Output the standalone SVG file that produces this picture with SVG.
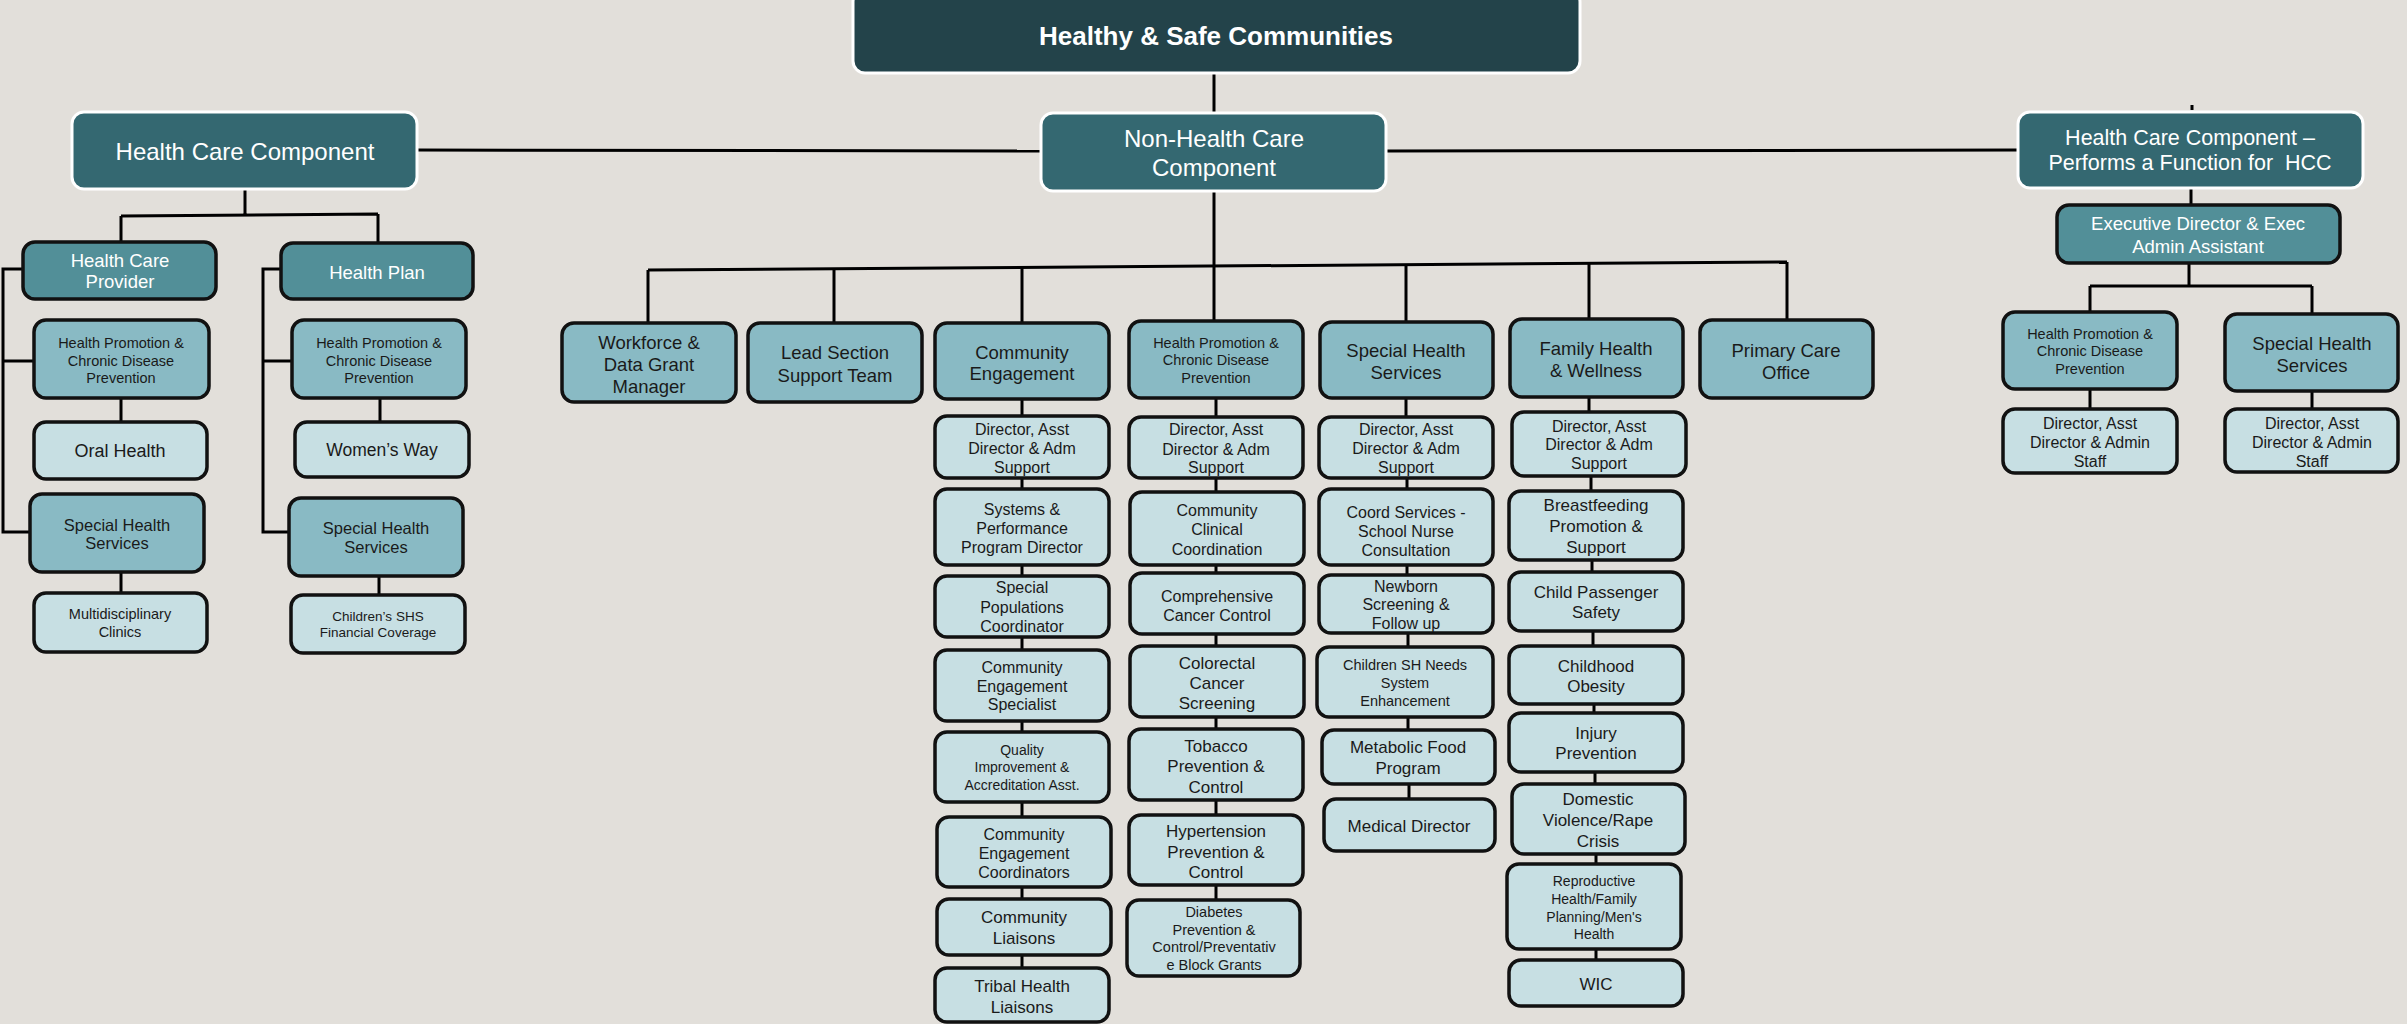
<svg xmlns="http://www.w3.org/2000/svg" width="2407" height="1024" viewBox="0 0 2407 1024">
<style>
.bg{fill:#E2DFDA}
.top{fill:#23434A;stroke:#FFFFFF;stroke-width:3}
.dk{fill:#346871;stroke:#FFFFFF;stroke-width:3}
.md{fill:#528F98;stroke:#111111;stroke-width:3.5}
.lt{fill:#89BAC4;stroke:#111111;stroke-width:3.5}
.xl{fill:#C7DFE3;stroke:#111111;stroke-width:3.5}
.c{fill:none;stroke:#000000;stroke-width:3}
text{font-family:"Liberation Sans",Arial,sans-serif;text-anchor:middle;dominant-baseline:central;fill:#1A1A1A}
.w{fill:#FFFFFF}
.b{font-weight:bold}
.f26{font-size:26px}.f24{font-size:24px}.f215{font-size:21.5px}.f185{font-size:18.5px}
.f18{font-size:18px}.f175{font-size:17.5px}.f17{font-size:17px}.f165{font-size:16.5px}
.f16{font-size:16px}.f145{font-size:14.5px}.f14{font-size:14px}.f135{font-size:13.5px}
</style>
<rect class="bg" x="0" y="0" width="2407" height="1024"/>

<g id="connectors">
<!-- top to non-hcc -->
<path class="c" d="M1214,73 V113"/>
<path class="c" d="M417,150 L1041,151"/>
<path class="c" d="M1386,151 L2018,150"/>
<!-- left HCC -->
<path class="c" d="M245,189 V215 M121,216 L378,214 M121,216 V242 M378,214 V243"/>
<path class="c" d="M23,269 H3 V532 H30 M3,361 H34"/>
<path class="c" d="M281,269 H263 V532 H289 M263,361 H292"/>
<path class="c" d="M121,398 V422 M121,572 V593 M380,398 V422 M379,576 V595"/>
<!-- middle bar -->
<path class="c" d="M648,270 L1787,262"/>
<path class="c" d="M1214,191 V321 M648,270 V323 M834,268 V323 M1022,267 V323 M1406,265 V322 M1589,264 V319 M1787,262 V320"/>
<!-- CE column -->
<path class="c" d="M1022,399 V416 M1022,478 V489 M1022,565 V576 M1022,637 V650 M1022,721 V732 M1022,802 V817 M1022,887 V899 M1022,955 V968"/>
<!-- HPCDP column -->
<path class="c" d="M1216,398 V417 M1216,478 V492 M1216,565 V573 M1216,634 V646 M1216,717 V729 M1216,800 V815 M1216,885 V900"/>
<!-- SHS column -->
<path class="c" d="M1406,398 V417 M1407,478 V489 M1407,565 V575 M1408,633 V647 M1408,717 V730 M1409,784 V799"/>
<!-- FHW column -->
<path class="c" d="M1589,397 V412 M1591,476 V491 M1592,560 V572 M1593,631 V646 M1594,704 V713 M1595,772 V784 M1596,854 V864 M1596,949 V960"/>
<!-- right side -->
<path class="c" d="M2192,105 V110"/>
<path class="c" d="M2191,188 V205 M2189,263 V286 M2090,286 H2312 M2090,286 V312 M2312,286 V314 M2090,389 V409 M2312,391 V409"/>
</g>

<g id="n-hsc"><rect class="top" x="853" y="-10" width="727" height="83" rx="12"/><text class="w b f26" x="1216" y="36">Healthy &amp; Safe Communities</text></g>
<g id="n-nonhcc"><rect class="dk" x="1041" y="113" width="345" height="78" rx="12"/><text class="w f24" x="1214" y="138">Non-Health Care</text><text class="w f24" x="1214" y="167">Component</text></g>
<g id="n-hcc"><rect class="dk" x="72" y="112" width="345" height="77" rx="12"/><text class="w f24" x="245" y="151">Health Care Component</text></g>
<g id="n-hccf"><rect class="dk" x="2018" y="112" width="345" height="76" rx="12"/><text class="w f215" x="2190" y="138">Health Care Component –</text><text class="w f215" x="2190" y="163" xml:space="preserve">Performs a Function for  HCC</text></g>

<!-- right side -->
<g id="n-exec"><rect class="md" x="2057" y="205" width="283" height="58" rx="12"/><text class="w f185" x="2198" y="223">Executive Director &amp; Exec</text><text class="w f185" x="2198" y="246">Admin Assistant</text></g>
<g id="n-r-hpcdp"><rect class="lt" x="2003" y="312" width="174" height="77" rx="12"/><text class="f145" x="2090" y="334">Health Promotion &amp;</text><text class="f145" x="2090" y="351">Chronic Disease</text><text class="f145" x="2090" y="369">Prevention</text></g>
<g id="n-r-shs"><rect class="lt" x="2225" y="314" width="173" height="77" rx="12"/><text class="f185" x="2312" y="343">Special Health</text><text class="f185" x="2312" y="365">Services</text></g>
<g id="n-r-dir1"><rect class="xl" x="2003" y="409" width="174" height="64" rx="12"/><text class="f16" x="2090" y="423">Director, Asst</text><text class="f16" x="2090" y="442">Director &amp; Admin</text><text class="f16" x="2090" y="461">Staff</text></g>
<g id="n-r-dir2"><rect class="xl" x="2225" y="409" width="173" height="63" rx="12"/><text class="f16" x="2312" y="423">Director, Asst</text><text class="f16" x="2312" y="442">Director &amp; Admin</text><text class="f16" x="2312" y="461">Staff</text></g>

<!-- left side -->
<g id="n-hcp"><rect class="md" x="23" y="242" width="193" height="57" rx="12"/><text class="w f185" x="120" y="260">Health Care</text><text class="w f185" x="120" y="281">Provider</text></g>
<g id="n-hp"><rect class="md" x="281" y="243" width="192" height="56" rx="12"/><text class="w f185" x="377" y="272">Health Plan</text></g>
<g id="n-l-hpcdp"><rect class="lt" x="34" y="320" width="175" height="78" rx="12"/><text class="f145" x="121" y="343">Health Promotion &amp;</text><text class="f145" x="121" y="361">Chronic Disease</text><text class="f145" x="121" y="378">Prevention</text></g>
<g id="n-oral"><rect class="xl" x="34" y="422" width="173" height="57" rx="12"/><text class="f18" x="120" y="451">Oral Health</text></g>
<g id="n-l-shs"><rect class="lt" x="30" y="494" width="174" height="78" rx="12"/><text class="f165" x="117" y="525">Special Health</text><text class="f165" x="117" y="543">Services</text></g>
<g id="n-multi"><rect class="xl" x="34" y="593" width="173" height="59" rx="12"/><text class="f145" x="120" y="614">Multidisciplinary</text><text class="f145" x="120" y="632">Clinics</text></g>
<g id="n-m-hpcdp"><rect class="lt" x="292" y="320" width="174" height="78" rx="12"/><text class="f145" x="379" y="343">Health Promotion &amp;</text><text class="f145" x="379" y="361">Chronic Disease</text><text class="f145" x="379" y="378">Prevention</text></g>
<g id="n-women"><rect class="xl" x="295" y="422" width="174" height="55" rx="12"/><text class="f175" x="382" y="450">Women’s Way</text></g>
<g id="n-m-shs"><rect class="lt" x="289" y="498" width="174" height="78" rx="12"/><text class="f165" x="376" y="528">Special Health</text><text class="f165" x="376" y="547">Services</text></g>
<g id="n-cshs"><rect class="xl" x="291" y="595" width="174" height="58" rx="12"/><text class="f135" x="378" y="616">Children’s SHS</text><text class="f135" x="378" y="632">Financial Coverage</text></g>

<!-- middle top level -->
<g id="n-work"><rect class="lt" x="562" y="323" width="174" height="79" rx="12"/><text class="f185" x="649" y="342">Workforce &amp;</text><text class="f185" x="649" y="364">Data Grant</text><text class="f185" x="649" y="386">Manager</text></g>
<g id="n-lead"><rect class="lt" x="748" y="323" width="174" height="79" rx="12"/><text class="f185" x="835" y="352">Lead Section</text><text class="f185" x="835" y="375">Support Team</text></g>
<g id="n-ce"><rect class="lt" x="935" y="323" width="174" height="76" rx="12"/><text class="f185" x="1022" y="352">Community</text><text class="f185" x="1022" y="373">Engagement</text></g>
<g id="n-hpcdp"><rect class="lt" x="1129" y="321" width="174" height="77" rx="12"/><text class="f145" x="1216" y="343">Health Promotion &amp;</text><text class="f145" x="1216" y="360">Chronic Disease</text><text class="f145" x="1216" y="378">Prevention</text></g>
<g id="n-shs"><rect class="lt" x="1320" y="322" width="173" height="76" rx="12"/><text class="f185" x="1406" y="350">Special Health</text><text class="f185" x="1406" y="372">Services</text></g>
<g id="n-fhw"><rect class="lt" x="1510" y="319" width="173" height="78" rx="12"/><text class="f185" x="1596" y="348">Family Health</text><text class="f185" x="1596" y="370">&amp; Wellness</text></g>
<g id="n-pco"><rect class="lt" x="1700" y="320" width="173" height="78" rx="12"/><text class="f185" x="1786" y="350">Primary Care</text><text class="f185" x="1786" y="372">Office</text></g>

<!-- CE column -->
<g id="n-ce1"><rect class="xl" x="935" y="416" width="174" height="62" rx="12"/><text class="f16" x="1022" y="429">Director, Asst</text><text class="f16" x="1022" y="448">Director &amp; Adm</text><text class="f16" x="1022" y="467">Support</text></g>
<g id="n-ce2"><rect class="xl" x="935" y="489" width="174" height="76" rx="12"/><text class="f16" x="1022" y="509">Systems &amp;</text><text class="f16" x="1022" y="528">Performance</text><text class="f16" x="1022" y="547">Program Director</text></g>
<g id="n-ce3"><rect class="xl" x="935" y="576" width="174" height="61" rx="12"/><text class="f16" x="1022" y="587">Special</text><text class="f16" x="1022" y="607">Populations</text><text class="f16" x="1022" y="626">Coordinator</text></g>
<g id="n-ce4"><rect class="xl" x="935" y="650" width="174" height="71" rx="12"/><text class="f16" x="1022" y="667">Community</text><text class="f16" x="1022" y="686">Engagement</text><text class="f16" x="1022" y="704">Specialist</text></g>
<g id="n-ce5"><rect class="xl" x="935" y="732" width="174" height="70" rx="12"/><text class="f14" x="1022" y="750">Quality</text><text class="f14" x="1022" y="767">Improvement &amp;</text><text class="f14" x="1022" y="785">Accreditation Asst.</text></g>
<g id="n-ce6"><rect class="xl" x="937" y="817" width="174" height="70" rx="12"/><text class="f16" x="1024" y="834">Community</text><text class="f16" x="1024" y="853">Engagement</text><text class="f16" x="1024" y="872">Coordinators</text></g>
<g id="n-ce7"><rect class="xl" x="937" y="899" width="174" height="56" rx="12"/><text class="f17" x="1024" y="917">Community</text><text class="f17" x="1024" y="938">Liaisons</text></g>
<g id="n-ce8"><rect class="xl" x="935" y="968" width="174" height="54" rx="12"/><text class="f17" x="1022" y="986">Tribal Health</text><text class="f17" x="1022" y="1007">Liaisons</text></g>

<!-- HPCDP column -->
<g id="n-hp1"><rect class="xl" x="1129" y="417" width="174" height="61" rx="12"/><text class="f16" x="1216" y="429">Director, Asst</text><text class="f16" x="1216" y="449">Director &amp; Adm</text><text class="f16" x="1216" y="467">Support</text></g>
<g id="n-hp2"><rect class="xl" x="1130" y="492" width="174" height="73" rx="12"/><text class="f16" x="1217" y="510">Community</text><text class="f16" x="1217" y="529">Clinical</text><text class="f16" x="1217" y="549">Coordination</text></g>
<g id="n-hp3"><rect class="xl" x="1130" y="573" width="174" height="61" rx="12"/><text class="f16" x="1217" y="596">Comprehensive</text><text class="f16" x="1217" y="615">Cancer Control</text></g>
<g id="n-hp4"><rect class="xl" x="1130" y="646" width="174" height="71" rx="12"/><text class="f17" x="1217" y="663">Colorectal</text><text class="f17" x="1217" y="683">Cancer</text><text class="f17" x="1217" y="703">Screening</text></g>
<g id="n-hp5"><rect class="xl" x="1129" y="729" width="174" height="71" rx="12"/><text class="f17" x="1216" y="746">Tobacco</text><text class="f17" x="1216" y="766">Prevention &amp;</text><text class="f17" x="1216" y="787">Control</text></g>
<g id="n-hp6"><rect class="xl" x="1129" y="815" width="174" height="70" rx="12"/><text class="f17" x="1216" y="831">Hypertension</text><text class="f17" x="1216" y="852">Prevention &amp;</text><text class="f17" x="1216" y="872">Control</text></g>
<g id="n-hp7"><rect class="xl" x="1127" y="900" width="173" height="76" rx="12"/><text class="f145" x="1214" y="912">Diabetes</text><text class="f145" x="1214" y="930">Prevention &amp;</text><text class="f145" x="1214" y="947">Control/Preventativ</text><text class="f145" x="1214" y="965">e Block Grants</text></g>

<!-- SHS column -->
<g id="n-sh1"><rect class="xl" x="1319" y="417" width="174" height="61" rx="12"/><text class="f16" x="1406" y="429">Director, Asst</text><text class="f16" x="1406" y="448">Director &amp; Adm</text><text class="f16" x="1406" y="467">Support</text></g>
<g id="n-sh2"><rect class="xl" x="1319" y="489" width="174" height="76" rx="12"/><text class="f16" x="1406" y="512">Coord Services -</text><text class="f16" x="1406" y="531">School Nurse</text><text class="f16" x="1406" y="550">Consultation</text></g>
<g id="n-sh3"><rect class="xl" x="1319" y="575" width="174" height="58" rx="12"/><text class="f16" x="1406" y="586">Newborn</text><text class="f16" x="1406" y="604">Screening &amp;</text><text class="f16" x="1406" y="623">Follow up</text></g>
<g id="n-sh4"><rect class="xl" x="1317" y="647" width="176" height="70" rx="12"/><text class="f145" x="1405" y="665">Children SH Needs</text><text class="f145" x="1405" y="683">System</text><text class="f145" x="1405" y="701">Enhancement</text></g>
<g id="n-sh5"><rect class="xl" x="1322" y="730" width="173" height="54" rx="12"/><text class="f17" x="1408" y="747">Metabolic Food</text><text class="f17" x="1408" y="768">Program</text></g>
<g id="n-sh6"><rect class="xl" x="1324" y="799" width="171" height="52" rx="12"/><text class="f17" x="1409" y="826">Medical Director</text></g>

<!-- FHW column -->
<g id="n-fh1"><rect class="xl" x="1512" y="412" width="174" height="64" rx="12"/><text class="f16" x="1599" y="426">Director, Asst</text><text class="f16" x="1599" y="444">Director &amp; Adm</text><text class="f16" x="1599" y="463">Support</text></g>
<g id="n-fh2"><rect class="xl" x="1509" y="491" width="174" height="69" rx="12"/><text class="f17" x="1596" y="505">Breastfeeding</text><text class="f17" x="1596" y="526">Promotion &amp;</text><text class="f17" x="1596" y="547">Support</text></g>
<g id="n-fh3"><rect class="xl" x="1509" y="572" width="174" height="59" rx="12"/><text class="f17" x="1596" y="592">Child Passenger</text><text class="f17" x="1596" y="612">Safety</text></g>
<g id="n-fh4"><rect class="xl" x="1509" y="646" width="174" height="58" rx="12"/><text class="f17" x="1596" y="666">Childhood</text><text class="f17" x="1596" y="686">Obesity</text></g>
<g id="n-fh5"><rect class="xl" x="1509" y="713" width="174" height="59" rx="12"/><text class="f17" x="1596" y="733">Injury</text><text class="f17" x="1596" y="753">Prevention</text></g>
<g id="n-fh6"><rect class="xl" x="1512" y="784" width="173" height="70" rx="12"/><text class="f17" x="1598" y="799">Domestic</text><text class="f17" x="1598" y="820">Violence/Rape</text><text class="f17" x="1598" y="841">Crisis</text></g>
<g id="n-fh7"><rect class="xl" x="1507" y="864" width="174" height="85" rx="12"/><text class="f14" x="1594" y="881">Reproductive</text><text class="f14" x="1594" y="899">Health/Family</text><text class="f14" x="1594" y="917">Planning/Men's</text><text class="f14" x="1594" y="934">Health</text></g>
<g id="n-fh8"><rect class="xl" x="1509" y="960" width="174" height="46" rx="12"/><text class="f17" x="1596" y="984">WIC</text></g>
</svg>
